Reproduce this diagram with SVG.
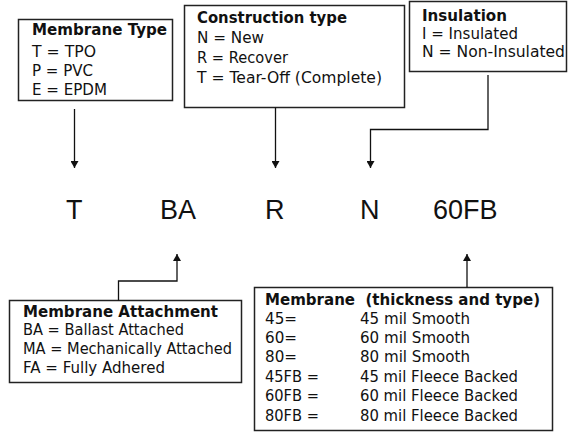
<svg xmlns="http://www.w3.org/2000/svg" width="568" height="432" viewBox="0 0 568 432">
<style>
.box{fill:#fff;stroke:#222;stroke-width:1.5}
.t{font-family:"DejaVu Sans",Verdana,sans-serif;font-size:15px;fill:#111}
.h{font-family:"DejaVu Sans",Verdana,sans-serif;font-size:15px;font-weight:bold;fill:#111}
.code{font-family:"Liberation Sans",Arial,sans-serif;font-size:27px;fill:#111}
.c{fill:none;stroke:#111;stroke-width:1.3}
</style>
<defs>
<marker id="ah" markerUnits="userSpaceOnUse" markerWidth="8" markerHeight="8" refX="7" refY="4" orient="auto">
<path d="M0,0 L7,4 L0,8 z" fill="#111"/>
</marker>
</defs>
<rect width="568" height="432" fill="#fff"/>
<g id="membrane-type">
<rect class="box" x="18.5" y="19.5" width="154" height="81"/>
<text class="h" x="32" y="35" textLength="135" lengthAdjust="spacingAndGlyphs">Membrane Type</text>
<text class="t" x="32" y="57" textLength="64" lengthAdjust="spacingAndGlyphs">T = TPO</text>
<text class="t" x="32" y="76" textLength="61" lengthAdjust="spacingAndGlyphs">P = PVC</text>
<text class="t" x="32" y="95" textLength="75" lengthAdjust="spacingAndGlyphs">E = EPDM</text>
</g>
<g id="construction-type">
<rect class="box" x="184.5" y="5.5" width="220" height="102"/>
<text class="h" x="197" y="23" textLength="150" lengthAdjust="spacingAndGlyphs">Construction type</text>
<text class="t" x="197" y="43" textLength="67" lengthAdjust="spacingAndGlyphs">N = New</text>
<text class="t" x="197" y="63" textLength="91" lengthAdjust="spacingAndGlyphs">R = Recover</text>
<text class="t" x="197" y="83" textLength="185" lengthAdjust="spacingAndGlyphs">T = Tear-Off (Complete)</text>
</g>
<g id="insulation">
<rect class="box" x="409.5" y="1.5" width="157" height="70"/>
<text class="h" x="422" y="21" textLength="85" lengthAdjust="spacingAndGlyphs">Insulation</text>
<text class="t" x="422" y="39" textLength="96" lengthAdjust="spacingAndGlyphs">I = Insulated</text>
<text class="t" x="422" y="57" textLength="143" lengthAdjust="spacingAndGlyphs">N = Non-Insulated</text>
</g>
<g id="membrane-attachment">
<rect class="box" x="9.5" y="300.5" width="232" height="82"/>
<text class="h" x="23" y="317" textLength="195" lengthAdjust="spacingAndGlyphs">Membrane Attachment</text>
<text class="t" x="23" y="335" textLength="161" lengthAdjust="spacingAndGlyphs">BA = Ballast Attached</text>
<text class="t" x="23" y="354" textLength="209" lengthAdjust="spacingAndGlyphs">MA = Mechanically Attached</text>
<text class="t" x="23" y="373" textLength="142" lengthAdjust="spacingAndGlyphs">FA = Fully Adhered</text>
</g>
<g id="membrane-thickness">
<rect class="box" x="254.5" y="287.5" width="298" height="143"/>
<text class="h" x="265" y="305" textLength="275" lengthAdjust="spacingAndGlyphs" xml:space="preserve">Membrane  (thickness and type)</text>
<text class="t" x="265" y="324" textLength="32" lengthAdjust="spacingAndGlyphs">45=</text>
<text class="t" x="360" y="324" textLength="110" lengthAdjust="spacingAndGlyphs">45 mil Smooth</text>
<text class="t" x="265" y="343" textLength="32" lengthAdjust="spacingAndGlyphs">60=</text>
<text class="t" x="360" y="343" textLength="110" lengthAdjust="spacingAndGlyphs">60 mil Smooth</text>
<text class="t" x="265" y="362" textLength="32" lengthAdjust="spacingAndGlyphs">80=</text>
<text class="t" x="360" y="362" textLength="110" lengthAdjust="spacingAndGlyphs">80 mil Smooth</text>
<text class="t" x="265" y="382" textLength="54" lengthAdjust="spacingAndGlyphs">45FB =</text>
<text class="t" x="360" y="382" textLength="158" lengthAdjust="spacingAndGlyphs">45 mil Fleece Backed</text>
<text class="t" x="265" y="401" textLength="54" lengthAdjust="spacingAndGlyphs">60FB =</text>
<text class="t" x="360" y="401" textLength="158" lengthAdjust="spacingAndGlyphs">60 mil Fleece Backed</text>
<text class="t" x="265" y="421" textLength="54" lengthAdjust="spacingAndGlyphs">80FB =</text>
<text class="t" x="360" y="421" textLength="158" lengthAdjust="spacingAndGlyphs">80 mil Fleece Backed</text>
</g>
<g id="codes">
<text class="code" x="66" y="219">T</text>
<text class="code" x="160" y="219">BA</text>
<text class="code" x="265" y="219">R</text>
<text class="code" x="360" y="219">N</text>
<text class="code" x="433" y="219">60FB</text>
</g>
<g id="connectors">
<path class="c" d="M74.5,109 V168" marker-end="url(#ah)"/>
<path class="c" d="M275.5,107.5 V168" marker-end="url(#ah)"/>
<path class="c" d="M488,75 V129.5 H370.5 V168" marker-end="url(#ah)"/>
<path class="c" d="M118.5,300.5 V281 H177 V254" marker-end="url(#ah)"/>
<path class="c" d="M467,287.5 V254" marker-end="url(#ah)"/>
</g>
</svg>
